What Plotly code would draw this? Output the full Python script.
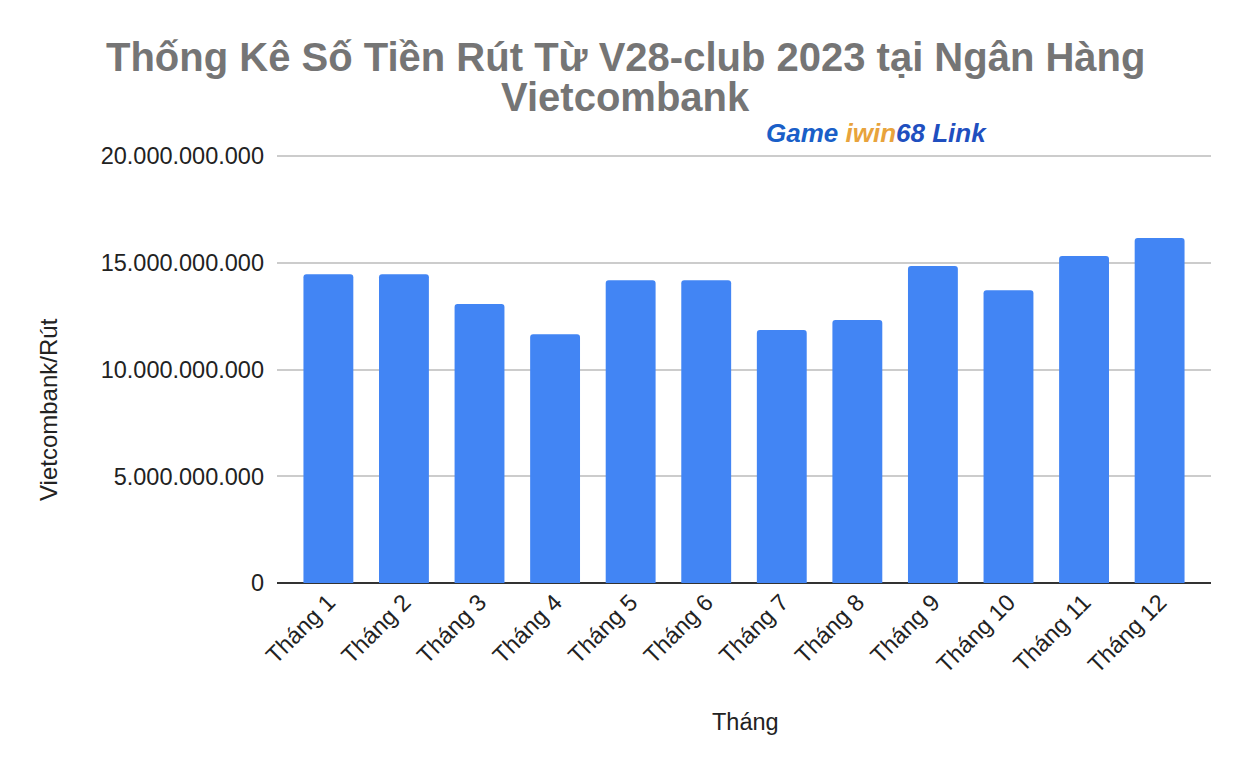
import plotly.graph_objects as go

months = ["Tháng 1", "Tháng 2", "Tháng 3", "Tháng 4", "Tháng 5", "Tháng 6",
          "Tháng 7", "Tháng 8", "Tháng 9", "Tháng 10", "Tháng 11", "Tháng 12"]
values = [14_470_000_000, 14_470_000_000, 13_070_000_000, 11_660_000_000,
          14_190_000_000, 14_190_000_000, 11_850_000_000, 12_320_000_000,
          14_850_000_000, 13_720_000_000, 15_320_000_000, 16_160_000_000]
y_ticks = [0, 5_000_000_000, 10_000_000_000, 15_000_000_000, 20_000_000_000]

title_line1 = "Thống Kê Số Tiền Rút Từ V28-club 2023 tại Ngân Hàng"
title_line2 = "Vietcombank"
x_title = "Tháng"
y_title = "Vietcombank/Rút"

FONT = "Liberation Sans, Arial, sans-serif"
W, H = 1250, 774
OFF = 8  # page body margin
L, T = 269, 146
pw, ph = 934, 429
R = W - L - pw
B = H - T - ph


def px(vx):
    return (vx - OFF - L) / pw


def py(vy):
    return (H - B - (vy - OFF)) / ph


fig = go.Figure(go.Bar(x=months, y=values, marker_color="#4285f4",
                       marker_line_width=0))

fig.update_layout(
    width=W, height=H,
    margin=dict(l=L, r=R, t=T, b=B),
    paper_bgcolor="white", plot_bgcolor="white",
    separators=",.",
    bargap=0.34,
    barcornerradius=3,
    font=dict(family=FONT, color="#222222"),
    showlegend=False,
    xaxis=dict(range=[-0.68, 11.68], tickangle=-45, tickfont=dict(size=23.5, color="#222222"),
               showgrid=False, showline=False, ticks=""),
    yaxis=dict(range=[0, 20_100_000_000], tickvals=y_ticks, tickformat=",d",
               tickfont=dict(size=23.5, color="#222222"),
               showgrid=True, gridcolor="#cccccc", gridwidth=1.5,
               zeroline=True, zerolinecolor="#333333", zerolinewidth=1.5,
               showline=False, ticks="", ticklabelstandoff=12),
)

fig.add_annotation(text=f"<b>{title_line1}</b>", xref="paper", yref="paper",
                   x=px(625), y=py(57), xanchor="center", yanchor="middle", showarrow=False,
                   font=dict(size=40, color="#757575", family=FONT))
fig.add_annotation(text=f"<b>{title_line2}</b>", xref="paper", yref="paper",
                   x=px(625), y=py(97), xanchor="center", yanchor="middle", showarrow=False,
                   font=dict(size=40, color="#757575", family=FONT))

fig.add_annotation(text=y_title, xref="paper", yref="paper",
                   x=px(48), y=py(410), xanchor="center", yanchor="middle",
                   textangle=-90, showarrow=False, font=dict(size=24, color="#222222"))
fig.add_annotation(text=x_title, xref="paper", yref="paper",
                   x=px(745), y=py(722), xanchor="center", yanchor="middle",
                   showarrow=False, font=dict(size=23.5, color="#222222"))

fig.add_annotation(
    text="<b><i><span style='color:#1a5fc8'>Game </span>"
         "<span style='color:#e8a33c'>iwin</span>"
         "<span style='color:#1f4fbf'>68 Link</span></i></b>",
    xref="paper", yref="paper", x=px(876), y=py(133),
    xanchor="center", yanchor="middle", showarrow=False,
    font=dict(size=26, family=FONT))

fig.write_html("out.html")
